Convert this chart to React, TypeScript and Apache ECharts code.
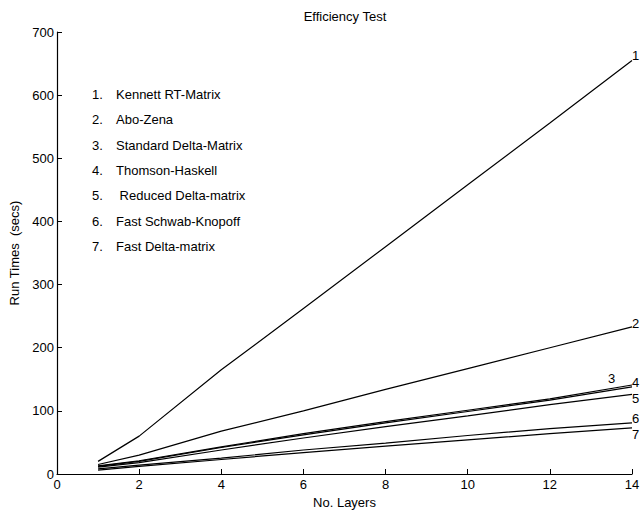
import React, { useEffect, useRef } from "react";
import * as echarts from "echarts";

const layers = [1, 2, 4, 6, 8, 10, 12, 14];
const seriesNames = [
  "Kennett RT-Matrix",
  "Abo-Zena",
  "Standard Delta-Matrix",
  "Thomson-Haskell",
  " Reduced Delta-matrix",
  "Fast Schwab-Knopoff",
  "Fast Delta-matrix",
];
const s1 = [20, 60, 165, 262, 360, 458, 556, 655];
const s2 = [15, 30, 68, 100, 134, 167, 200, 233];
const s3 = [13, 21, 43, 64, 83, 101, 119, 141];
const s4 = [12, 20, 42, 62, 81, 99, 117, 138];
const s5 = [11, 18, 38, 57, 75, 92, 110, 126];
const s6 = [8, 14, 25, 38, 49, 61, 72, 81];
const s7 = [6, 12, 23, 34, 44, 54, 64, 73];
const allSeries = [s1, s2, s3, s4, s5, s6, s7];
const endOffsets: [number, number][] = [
  [-2, -5],
  [-2, -3],
  [-26, -6],
  [-2, -4],
  [-2, 4],
  [-2, -4],
  [-2, 7],
];

const FONT = "Liberation Sans, Arial, Helvetica, sans-serif";

export default function App() {
  const ref = useRef<HTMLDivElement>(null);
  useEffect(() => {
    const chart = echarts.init(ref.current!, null, { renderer: "svg" });
    const legendItems: any[] = [];
    seriesNames.forEach((n, i) => {
      const y = 95 + i * 25.3;
      legendItems.push({
        type: "text",
        left: 92,
        top: y - 7,
        style: { text: `${i + 1}.`, fill: "#000", font: `13px ${FONT}` },
      });
      legendItems.push({
        type: "text",
        left: 116,
        top: y - 7,
        style: { text: n, fill: "#000", font: `13px ${FONT}` },
      });
    });
    chart.setOption({
      animation: false,
      backgroundColor: "#fff",
      title: {
        text: "Efficiency Test",
        left: 340,
        top: 5,
        textAlign: "center",
        textStyle: { fontFamily: FONT, fontSize: 13, fontWeight: "normal", color: "#000" },
      },
      grid: { left: 54, right: 12, top: 32, bottom: 40 },
      xAxis: {
        type: "value",
        min: 0,
        max: 14,
        interval: 2,
        name: "No. Layers",
        nameLocation: "middle",
        nameGap: 19,
        nameTextStyle: { fontFamily: FONT, fontSize: 13, color: "#000" },
        axisLine: { lineStyle: { color: "#000", width: 1.2 } },
        axisTick: { inside: true, length: 5, lineStyle: { color: "#000" } },
        axisLabel: { fontFamily: FONT, fontSize: 13, color: "#000", margin: 4 },
        splitLine: { show: false },
      },
      yAxis: {
        type: "value",
        min: 0,
        max: 700,
        interval: 100,
        name: "Run Times  (secs)",
        nameLocation: "middle",
        nameGap: 36,
        nameTextStyle: { fontFamily: FONT, fontSize: 13, color: "#000" },
        axisLine: { show: true, lineStyle: { color: "#000", width: 1.2 } },
        axisTick: { show: true, inside: true, length: 5, lineStyle: { color: "#000" } },
        axisLabel: { fontFamily: FONT, fontSize: 13, color: "#000", margin: 3 },
        splitLine: { show: false },
      },
      series: allSeries.map((vals, i) => ({
        type: "line",
        name: seriesNames[i],
        data: layers.map((x, j) => [x, vals[j]]),
        showSymbol: false,
        symbol: "none",
        lineStyle: { color: "#000", width: 1.2 },
        endLabel: {
          show: true,
          formatter: `${i + 1}`,
          color: "#000",
          fontFamily: FONT,
          fontSize: 13,
          offset: endOffsets[i],
          distance: 2,
        },
      })),
      graphic: legendItems,
    });
    return () => chart.dispose();
  }, []);
  return <div ref={ref} style={{ width: 644, height: 514, position: "absolute", left: 0, top: 0 }} />;
}
